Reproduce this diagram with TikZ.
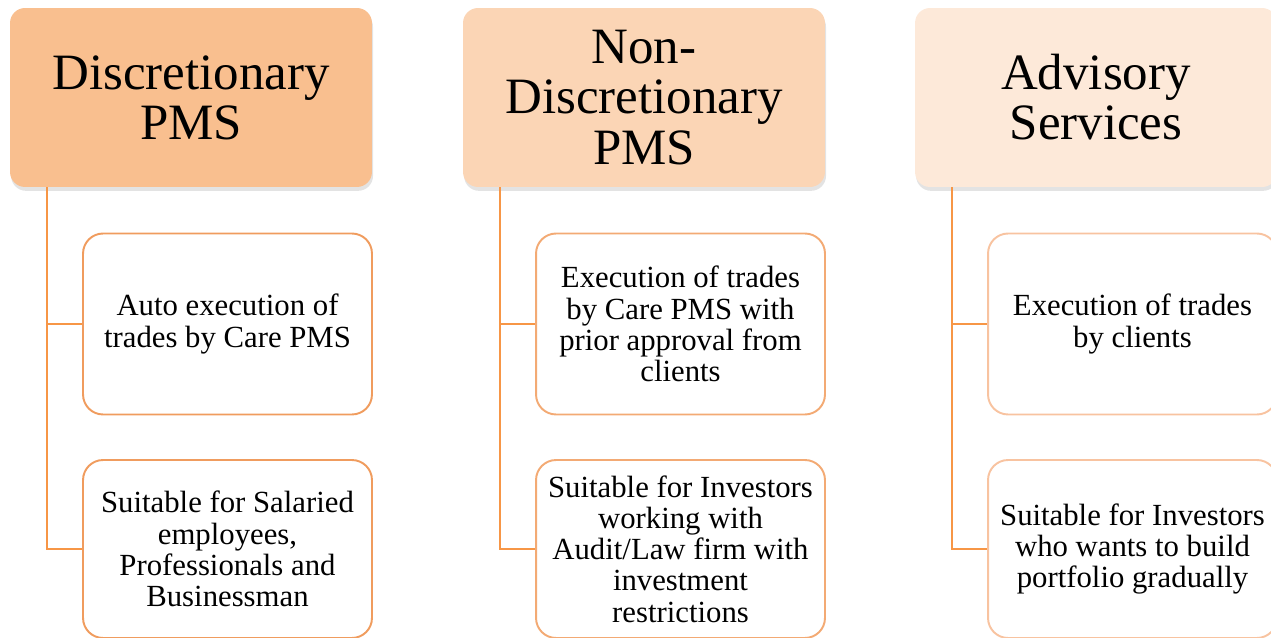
\documentclass[tikz,border=0pt]{standalone}
\usepackage{fontspec}
\setmainfont{Liberation Serif}
\usepackage{xcolor}
\usepackage{tikz}
\usetikzlibrary{positioning, calc, shadows}

\definecolor{hdrA}{HTML}{F9BF8F}
\definecolor{hdrB}{HTML}{FBD5B5}
\definecolor{hdrC}{HTML}{FDE9D9}
\definecolor{edgeA}{HTML}{F09C5E}
\definecolor{edgeB}{HTML}{F3AA74}
\definecolor{edgeC}{HTML}{F8C3A0}
\definecolor{linkc}{HTML}{F79646}

\tikzset{
  header/.style={rectangle, rounded corners=0.3cm, minimum width=7.24cm, minimum height=3.58cm,
    align=center, inner sep=0pt, font=\fontsize{29pt}{28.5pt}\selectfont,
    drop shadow={shadow xshift=0.6pt, shadow yshift=-2.2pt, opacity=0.22}},
  item/.style={rectangle, draw, line width=1.1pt, rounded corners=0.4cm, fill=white,
    minimum width=5.78cm, align=center, inner sep=0pt, font=\fontsize{17.5pt}{17.8pt}\selectfont},
  link/.style={draw=linkc, line width=1.2pt}
}

\begin{document}
\begin{tikzpicture}[x=0.02cm, y=-0.02cm]
      \useasboundingbox (0,0) rectangle (1271,638);
      \clip (0,0) rectangle (1271,638);

      % Headers
      \node[header, fill=hdrA] (h1) at (191, 97.5) {Discretionary\\PMS};
      \node[header, fill=hdrB] (h2) at (644, 97.5) {Non-\\Discretionary\\PMS};
      \node[header, fill=hdrC] (h3) at (1096, 97.5) {Advisory\\Services};

      % Column 1
      \node[item, draw=edgeA, minimum height=3.62cm] (c1a) at (227.5, 324) {Auto execution of\\trades by Care PMS};
      \node[item, draw=edgeA, minimum height=3.56cm] (c1b) at (227.5, 549) {Suitable for Salaried\\employees,\\Professionals and\\Businessman};

      % Column 2
      \node[item, draw=edgeB, minimum height=3.62cm] (c2a) at (680.5, 324) {Execution of trades\\by Care PMS with\\prior approval from\\clients};
      \node[item, draw=edgeB, minimum height=3.56cm] (c2b) at (680.5, 549) {Suitable for Investors\\working with\\Audit/Law firm with\\investment\\restrictions};

      % Column 3
      \node[item, draw=edgeC, minimum height=3.62cm] (c3a) at (1132.5, 324) {Execution of trades\\by clients};
      \node[item, draw=edgeC, minimum height=3.56cm] (c3b) at (1132.5, 549) {Suitable for Investors\\who wants to build\\portfolio gradually};

      % Connectors
      \coordinate (r1) at ($(h1.south west)+(37,0)$);
      \coordinate (r2) at ($(h2.south west)+(37,0)$);
      \coordinate (r3) at ($(h3.south west)+(37,0)$);
      \draw[link] (r1) |- (c1b.west);
      \draw[link] (r1 |- c1a.west) -- (c1a.west);
      \draw[link] (r2) |- (c2b.west);
      \draw[link] (r2 |- c2a.west) -- (c2a.west);
      \draw[link] (r3) |- (c3b.west);
      \draw[link] (r3 |- c3a.west) -- (c3a.west);
    \end{tikzpicture}
\end{document}
